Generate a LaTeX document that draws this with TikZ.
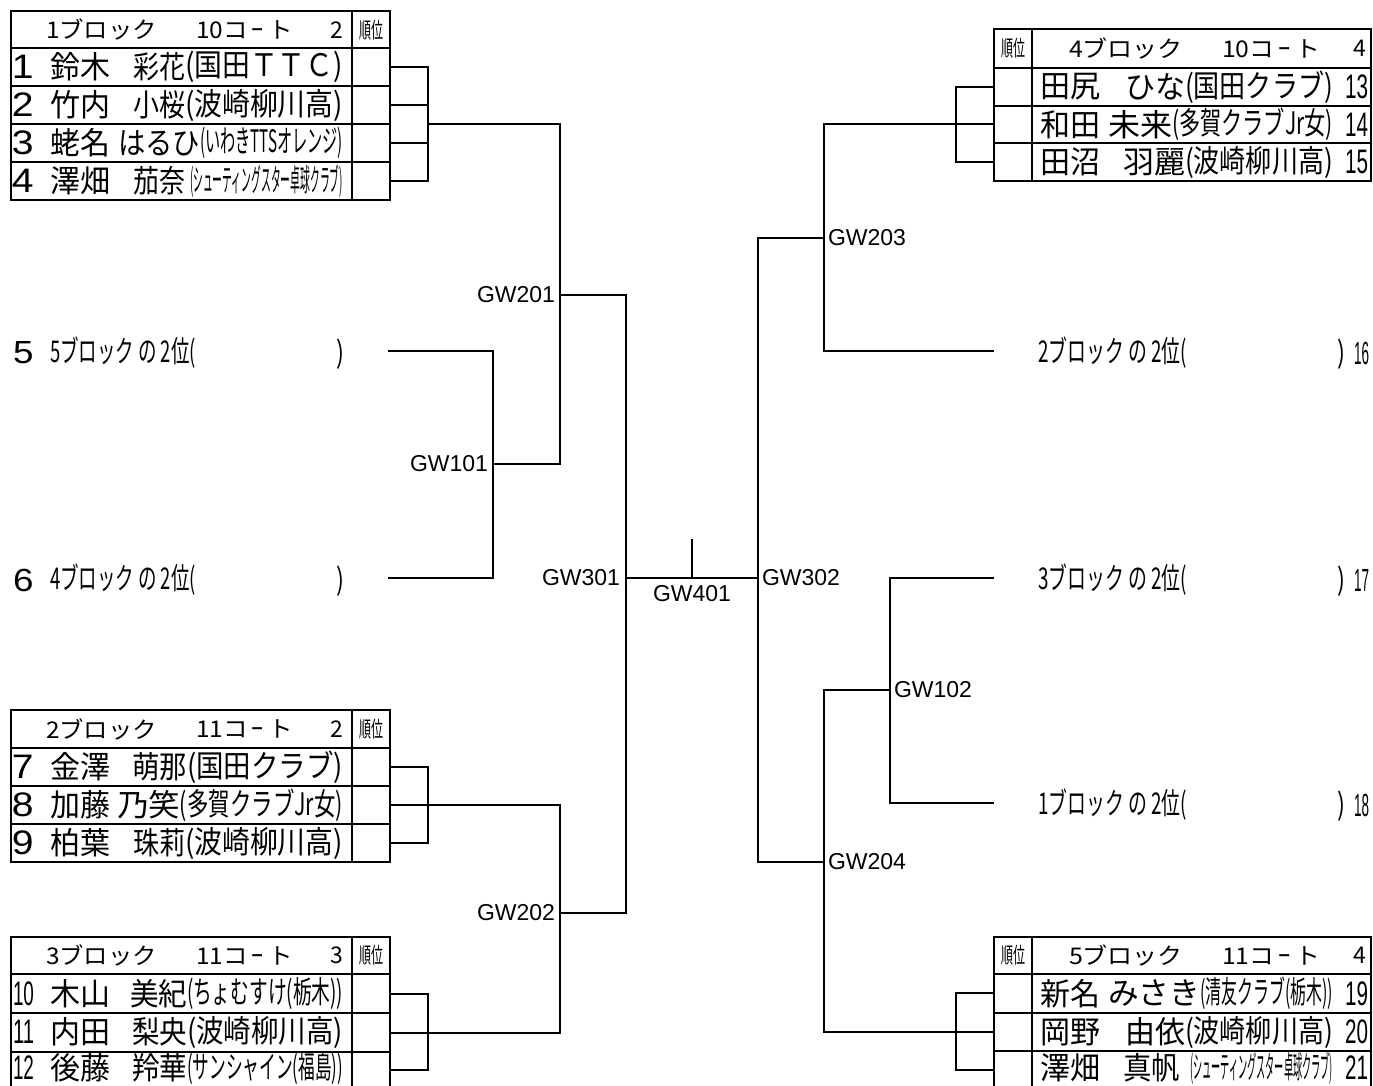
\documentclass[tikz,border=0pt]{standalone}
\usepackage{fontspec}
\usepackage{graphicx}
\setmainfont{Liberation Sans}
\newfontfamily\jpf{Noto Sans CJK JP}
\newcommand{\sqz}[2]{\resizebox{#1pt}{\height}{#2}}
\newcommand{\kt}{10コ\hspace{4pt}\scalebox{0.5}[1]{ー}\hspace{4pt}ト}
\newcommand{\ktb}{11コ\hspace{4pt}\scalebox{0.5}[1]{ー}\hspace{4pt}ト}
\begin{document}
\begin{tikzpicture}[x=1pt,y=-1pt,
 txt/.style={inner sep=0pt,outer sep=0pt},
 jp/.style={txt,font=\jpf\fontsize{31}{31}\selectfont},
 hd/.style={txt,font=\jpf\fontsize{23}{23}\selectfont},
 rk/.style={txt,font=\jpf\fontsize{22}{22}\selectfont},
 ent/.style={txt,font=\jpf\fontsize{30}{30}\selectfont},
 num/.style={txt,font=\fontsize{34}{34}\selectfont},
 sn/.style={txt,font=\fontsize{32}{32}\selectfont},
 gw/.style={txt,font=\fontsize{23}{23}\selectfont},
 tbl/.style={line width=1.4pt},
 ln/.style={line width=1.3pt}]
\useasboundingbox (0,0) rectangle (1373,1085);
\clip (0,0) rectangle (1373,1085);
\fill[white] (0,0) rectangle (1373,1085);

% ---------- tables ----------
% T1
\draw[tbl] (11,11) rectangle (390,200);
\foreach \yy in {48,86,124,162} \draw[tbl] (11,\yy) -- (390,\yy);
\draw[tbl] (352,11) -- (352,200);
% T2
\draw[tbl] (11,710) rectangle (390,862);
\foreach \yy in {748,786,824} \draw[tbl] (11,\yy) -- (390,\yy);
\draw[tbl] (352,710) -- (352,862);
% T3
\draw[tbl] (11,937) rectangle (390,1095);
\foreach \yy in {974,1013,1052} \draw[tbl] (11,\yy) -- (390,\yy);
\draw[tbl] (352,937) -- (352,1095);
% T4
\draw[tbl] (994,29) rectangle (1371,181);
\foreach \yy in {68,106,143} \draw[tbl] (994,\yy) -- (1371,\yy);
\draw[tbl] (1032,29) -- (1032,181);
% T5
\draw[tbl] (994,937) rectangle (1371,1095);
\foreach \yy in {974,1013,1051} \draw[tbl] (994,\yy) -- (1371,\yy);
\draw[tbl] (1032,937) -- (1032,1095);

% ---------- headers ----------
\node[hd,anchor=west] (h1a) at (46,30) {\sqz{111}{1ブロック}};
\node[hd,anchor=west] (h1b) at (196,30) {\sqz{97}{\kt}};
\node[hd,anchor=east] (h1c) at (343,30) {2};
\node[rk] (k1) at (371,30) {\sqz{24}{順位}};

\node[hd,anchor=west] (h2a) at (46,729) {\sqz{111}{2ブロック}};
\node[hd,anchor=west] (h2b) at (196,729) {\sqz{97}{\ktb}};
\node[hd,anchor=east] (h2c) at (343,729) {2};
\node[rk] (k2) at (371,729) {\sqz{24}{順位}};

\node[hd,anchor=west] (h3a) at (46,955.5) {\sqz{111}{3ブロック}};
\node[hd,anchor=west] (h3b) at (196,955.5) {\sqz{97}{\ktb}};
\node[hd,anchor=east] (h3c) at (343,955.5) {3};
\node[rk] (k3) at (371,955.5) {\sqz{24}{順位}};

\node[hd,anchor=west] (h4a) at (1069,48.5) {\sqz{114}{4ブロック}};
\node[hd,anchor=west] (h4b) at (1222,48.5) {\sqz{98}{\kt}};
\node[hd,anchor=east] (h4c) at (1366,48.5) {4};
\node[rk] (k4) at (1013,48.5) {\sqz{24}{順位}};

\node[hd,anchor=west] (h5a) at (1069,955.5) {\sqz{114}{5ブロック}};
\node[hd,anchor=west] (h5b) at (1222,955.5) {\sqz{98}{\ktb}};
\node[hd,anchor=east] (h5c) at (1366,955.5) {4};
\node[rk] (k5) at (1013,955.5) {\sqz{24}{順位}};

% ---------- T1 rows ----------
\node[num,anchor=west] (n1) at (12,67) {\scalebox{1.15}[1]{1}};
\node[jp,anchor=west] (f1) at (50,67) {\sqz{60}{鈴木}};
\node[jp,anchor=west] (g1) at (133,67) {\sqz{52}{彩花}};
\node[jp,anchor=east] (c1) at (343,67) {\sqz{158}{(国田ＴＴＣ)}};

\node[num,anchor=west] (n2) at (12,105) {\scalebox{1.15}[1]{2}};
\node[jp,anchor=west] (f2) at (50,105) {\sqz{60}{竹内}};
\node[jp,anchor=west] (g2) at (133,105) {\sqz{52}{小桜}};
\node[jp,anchor=east] (c2) at (343,105) {\sqz{158}{(波崎柳川高)}};

\node[num,anchor=west] (n3) at (12,143) {\scalebox{1.15}[1]{3}};
\node[jp,anchor=west] (f3) at (50,143) {\sqz{60}{蛯名}};
\node[jp,anchor=west] (g3) at (118,143) {\sqz{82}{はるひ}};
\node[jp,anchor=east] (c3) at (343,143) {\sqz{143}{(いわきTTSオレンジ)}};

\node[num,anchor=west] (n4) at (12,181) {\scalebox{1.15}[1]{4}};
\node[jp,anchor=west] (f4) at (50,181) {\sqz{60}{澤畑}};
\node[jp,anchor=west] (g4) at (133,181) {\sqz{52}{茄奈}};
\node[jp,anchor=east] (c4) at (343,181) {\sqz{153}{(シューティングスター卓球クラブ)}};

% ---------- T2 rows ----------
\node[num,anchor=west] (n7) at (12,767) {\scalebox{1.15}[1]{7}};
\node[jp,anchor=west] (f7) at (50,767) {\sqz{60}{金澤}};
\node[jp,anchor=west] (g7) at (132,767) {\sqz{55}{萌那}};
\node[jp,anchor=east] (c7) at (343,767) {\sqz{156}{(国田クラブ)}};

\node[num,anchor=west] (n8) at (12,805) {\scalebox{1.15}[1]{8}};
\node[jp,anchor=west] (f8) at (50,805) {\sqz{60}{加藤}};
\node[jp,anchor=west] (g8) at (117,805) {\sqz{63}{乃笑}};
\node[jp,anchor=east] (c8) at (343,805) {\sqz{163}{(多賀クラブJr女)}};

\node[num,anchor=west] (n9) at (12,843) {\scalebox{1.15}[1]{9}};
\node[jp,anchor=west] (f9) at (50,843) {\sqz{60}{柏葉}};
\node[jp,anchor=west] (g9) at (133,843) {\sqz{52}{珠莉}};
\node[jp,anchor=east] (c9) at (343,843) {\sqz{158}{(波崎柳川高)}};

% ---------- T3 rows ----------
\node[num,anchor=west] (n10) at (13,993.5) {\sqz{21}{10}};
\node[jp,anchor=west] (f10) at (50,993.5) {\sqz{60}{木山}};
\node[jp,anchor=west] (g10) at (130,993.5) {\sqz{57}{美紀}};
\node[jp,anchor=east] (c10) at (343,993.5) {\sqz{156}{(ちょむすけ(栃木))}};

\node[num,anchor=west] (n11) at (13,1032) {\sqz{21}{11}};
\node[jp,anchor=west] (f11) at (50,1032) {\sqz{60}{内田}};
\node[jp,anchor=west] (g11) at (132,1032) {\sqz{55}{梨央}};
\node[jp,anchor=east] (c11) at (343,1032) {\sqz{156}{(波崎柳川高)}};

\node[num,anchor=west] (n12) at (13,1068) {\sqz{21}{12}};
\node[jp,anchor=west] (f12) at (50,1068) {\sqz{60}{後藤}};
\node[jp,anchor=west] (g12) at (132,1068) {\sqz{55}{羚華}};
\node[jp,anchor=east] (c12) at (343,1068) {\sqz{156}{(サンシャイン(福島))}};

% ---------- T4 rows ----------
\node[jp,anchor=west] (f13) at (1040,87) {\sqz{60}{田尻}};
\node[jp,anchor=west] (g13) at (1125,87) {\sqz{60}{ひな}};
\node[jp,anchor=east] (c13) at (1333,87) {\sqz{148}{(国田クラブ)}};
\node[num,anchor=east] (n13) at (1368,87) {\sqz{23}{13}};

\node[jp,anchor=west] (f14) at (1040,124.5) {\sqz{60}{和田}};
\node[jp,anchor=west] (g14) at (1108,124.5) {\sqz{64}{未来}};
\node[jp,anchor=east] (c14) at (1333,124.5) {\sqz{161}{(多賀クラブJr女)}};
\node[num,anchor=east] (n14) at (1368,124.5) {\sqz{23}{14}};

\node[jp,anchor=west] (f15) at (1040,162) {\sqz{60}{田沼}};
\node[jp,anchor=west] (g15) at (1123,162) {\sqz{62}{羽麗}};
\node[jp,anchor=east] (c15) at (1333,162) {\sqz{148}{(波崎柳川高)}};
\node[num,anchor=east] (n15) at (1368,162) {\sqz{23}{15}};

% ---------- T5 rows ----------
\node[jp,anchor=west] (f19) at (1040,993.5) {\sqz{60}{新名}};
\node[jp,anchor=west] (g19) at (1108,993.5) {\sqz{92}{みさき}};
\node[jp,anchor=east] (c19) at (1333,993.5) {\sqz{133}{(清友クラブ(栃木))}};
\node[num,anchor=east] (n19) at (1368,993.5) {\sqz{23}{19}};

\node[jp,anchor=west] (f20) at (1040,1032) {\sqz{60}{岡野}};
\node[jp,anchor=west] (g20) at (1125,1032) {\sqz{60}{由依}};
\node[jp,anchor=east] (c20) at (1333,1032) {\sqz{148}{(波崎柳川高)}};
\node[num,anchor=east] (n20) at (1368,1032) {\sqz{23}{20}};

\node[jp,anchor=west] (f21) at (1040,1068) {\sqz{60}{澤畑}};
\node[jp,anchor=west] (g21) at (1123,1068) {\sqz{57}{真帆}};
\node[jp,anchor=east] (c21) at (1333,1068) {\sqz{143}{(シューティングスター卓球クラブ)}};
\node[num,anchor=east] (n21) at (1368,1068) {\sqz{23}{21}};

% ---------- single entries ----------
\node[sn,anchor=west] (n5) at (13,353) {\scalebox{1.15}[1]{5}};
\node[ent,anchor=west] (t5e) at (50,353) {\sqz{146}{5ブロック の 2位(}};
\node[ent,anchor=east] (p5) at (344,354) {\sqz{8}{)}};

\node[sn,anchor=west] (n6) at (13,580) {\scalebox{1.15}[1]{6}};
\node[ent,anchor=west] (t6e) at (50,580) {\sqz{146}{4ブロック の 2位(}};
\node[ent,anchor=east] (p6) at (344,581) {\sqz{8}{)}};

\node[ent,anchor=west] (t16) at (1038,353) {\sqz{149}{2ブロック の 2位(}};
\node[ent,anchor=east] (p16) at (1345,354) {\sqz{8}{)}};
\node[sn,anchor=east] (n16) at (1369,353) {\sqz{15}{16}};

\node[ent,anchor=west] (t17) at (1038,580) {\sqz{149}{3ブロック の 2位(}};
\node[ent,anchor=east] (p17) at (1345,581) {\sqz{8}{)}};
\node[sn,anchor=east] (n17) at (1369,580) {\sqz{15}{17}};

\node[ent,anchor=west] (t18) at (1038,805) {\sqz{149}{1ブロック の 2位(}};
\node[ent,anchor=east] (p18) at (1345,806) {\sqz{8}{)}};
\node[sn,anchor=east] (n18) at (1369,805) {\sqz{15}{18}};

% ---------- bracket coordinates ----------
\coordinate (t1r1) at (390,67);
\coordinate (t1r2) at (390,105);
\coordinate (t1r3) at (390,143);
\coordinate (t1r4) at (390,181);
\coordinate (t1x) at (428,124);
\coordinate (t2r1) at (390,767);
\coordinate (t2r2) at (390,805);
\coordinate (t2r3) at (390,843);
\coordinate (t2x) at (428,805);
\coordinate (t3r1) at (390,994);
\coordinate (t3r2) at (390,1033);
\coordinate (t3r3) at (390,1070);
\coordinate (t3x) at (428,1033);
\coordinate (t4r1) at (994,87);
\coordinate (t4r2) at (994,124);
\coordinate (t4r3) at (994,162);
\coordinate (t4x) at (956,124);
\coordinate (t5r1) at (994,993);
\coordinate (t5r2) at (994,1032);
\coordinate (t5r3) at (994,1070);
\coordinate (t5x) at (956,1032);
\coordinate (e5) at (388,351);
\coordinate (e6) at (388,578);
\coordinate (e16) at (994,351);
\coordinate (e17) at (994,578);
\coordinate (e18) at (994,803);
\coordinate (gw101) at (493,464);
\coordinate (gw201) at (560,295);
\coordinate (gw202) at (560,913);
\coordinate (gw301) at (626,578);
\coordinate (gw401) at (692,578);
\coordinate (gw401t) at (692,539);
\coordinate (gw302) at (758,578);
\coordinate (gw203) at (824,238);
\coordinate (gw204) at (824,862);
\coordinate (gw102) at (890,690);

% ---------- connectors ----------
\draw[ln] (t1r1) -| (t1x);
\draw[ln] (t1r2) -| (t1x);
\draw[ln] (t1r3) -| (t1x);
\draw[ln] (t1r4) -| (t1x);
\draw[ln] (t2r1) -| (t2x);
\draw[ln] (t2r2) -- (t2x);
\draw[ln] (t2r3) -| (t2x);
\draw[ln] (t3r1) -| (t3x);
\draw[ln] (t3r2) -- (t3x);
\draw[ln] (t3r3) -| (t3x);
\draw[ln] (t4r1) -| (t4x);
\draw[ln] (t4r2) -- (t4x);
\draw[ln] (t4r3) -| (t4x);
\draw[ln] (t5r1) -| (t5x);
\draw[ln] (t5r2) -- (t5x);
\draw[ln] (t5r3) -| (t5x);

\draw[ln] (e5) -| (gw101);
\draw[ln] (e6) -| (gw101);
\draw[ln] (gw101) -| (gw201);
\draw[ln] (t1x) -| (gw201);
\draw[ln] (t2x) -| (gw202);
\draw[ln] (t3x) -| (gw202);
\draw[ln] (gw201) -| (gw301);
\draw[ln] (gw202) -| (gw301);
\draw[ln] (gw301) -- (gw302);
\draw[ln] (gw401) -- (gw401t);
\draw[ln] (gw302) |- (gw203);
\draw[ln] (gw302) |- (gw204);
\draw[ln] (gw203) |- (t4x);
\draw[ln] (gw203) |- (e16);
\draw[ln] (gw204) |- (gw102);
\draw[ln] (gw204) |- (t5x);
\draw[ln] (gw102) |- (e17);
\draw[ln] (gw102) |- (e18);

% ---------- match labels ----------
\node[gw,anchor=east] (l201) at (555,295) {GW201};
\node[gw,anchor=east] (l101) at (488,464) {GW101};
\node[gw,anchor=east] (l301) at (620,578) {GW301};
\node[gw,anchor=east] (l202) at (555,913) {GW202};
\node[gw,anchor=north] (l401) at (692,585) {GW401};
\node[gw,anchor=west] (l302) at (762,578) {GW302};
\node[gw,anchor=west] (l203) at (828,238) {GW203};
\node[gw,anchor=west] (l102) at (894,690) {GW102};
\node[gw,anchor=west] (l204) at (828,862) {GW204};
\end{tikzpicture}
\end{document}
